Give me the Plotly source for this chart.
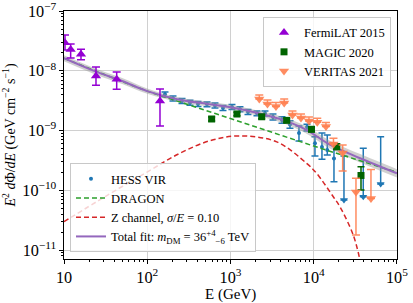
import plotly.graph_objects as go

# ---------------- data ----------------
fermi_E = [10.28, 12.02, 16.0, 24.23, 42.95, 142.3]
fermi_F = [2.947e-8, 2.268e-8, 1.885e-8, 8.17e-9, 7.19e-9, 3.116e-9]
fermi_hi = [3.965e-8, 2.804e-8, 2.286e-8, 1.156e-8, 9.53e-9, 4.95e-9]
fermi_lo = [2.225e-8, 1.634e-8, 1.531e-8, 5.71e-9, 4.89e-9, 1.189e-9]

magic_E = [594, 1196, 2371, 4733, 9397, 18880, 36980]
magic_F = [1.56e-9, 1.89e-9, 1.70e-9, 1.48e-9, 1.05e-9, 5.36e-10, 1.77e-10]
magic_hi = [1.68e-9, 2.02e-9, 1.83e-9, 1.60e-9, 1.15e-9, 6.0e-10, 2.48e-10]
magic_lo = [1.45e-9, 1.77e-9, 1.58e-9, 1.37e-9, 0.95e-9, 4.8e-10, 1.01e-10]

ver_E = [2218, 2782, 3520, 4418, 5555, 7028, 8769, 11030, 14030, 17270, 22270, 32180, 48720]
ver_F = [3.366e-9, 2.777e-9, 2.521e-9, 2.885e-9, 1.817e-9, 1.619e-9, 1.442e-9,
         1.372e-9, 1.167e-9, 5.94e-10, 4.20e-10, 9.35e-11, 7.28e-11]
ver_hi = [3.925e-9, 3.238e-9, 2.939e-9, 3.364e-9, 2.119e-9, 1.888e-9, 1.681e-9,
          1.600e-9, 1.361e-9, 7.41e-10, 5.72e-10, 1.585e-10, 2.225e-10]
ver_lo = [3.366e-9, 2.777e-9, 2.521e-9, 2.885e-9, 1.817e-9, 1.619e-9, 1.442e-9,
          1.372e-9, 1.167e-9, 5.94e-10, 2.10e-10, 1.78e-11, 7.28e-11]

hess_E = [163.4, 203.8, 261.5, 326.2, 407.0, 522.1, 651.4, 812.6, 1042, 1300, 1623,
          2081, 2597, 3240, 4156, 5185, 6651, 8297, 10350, 12560, 14550, 17510]
hess_F = [4.035e-9, 3.432e-9, 3.116e-9, 2.919e-9, 2.777e-9, 2.745e-9, 2.620e-9, 2.379e-9,
          2.473e-9, 2.263e-9, 2.040e-9, 1.940e-9, 1.925e-9, 1.682e-9, 1.499e-9, 1.260e-9,
          9.08e-10, 1.145e-9, 6.10e-10, 5.30e-10, 4.72e-10, 3.42e-10]
hess_hi = [4.435e-9, 3.772e-9, 3.426e-9, 3.209e-9, 3.057e-9, 3.015e-9, 2.880e-9, 2.619e-9,
           2.723e-9, 2.493e-9, 2.240e-9, 2.130e-9, 2.115e-9, 1.882e-9, 1.699e-9, 1.460e-9,
           1.189e-9, 1.280e-9, 7.87e-10, 9.08e-10, 8.41e-10, 6.18e-10]
hess_lo = [3.675e-9, 3.122e-9, 2.836e-9, 2.659e-9, 2.527e-9, 2.495e-9, 2.380e-9, 2.169e-9,
           2.253e-9, 2.063e-9, 1.860e-9, 1.770e-9, 1.755e-9, 1.502e-9, 1.319e-9, 1.090e-9,
           6.67e-10, 9.81e-10, 3.74e-10, 3.30e-10, 3.89e-10, 1.39e-10]
hess_ul_E = [23090, 39370, 63720]
hess_ul_F = [3.74e-10, 5.04e-10, 7.87e-10]
hess_ul_tip = [6.87e-11, 7.80e-11, 1.27e-10]

dragon_E = [10, 31.62, 100, 316.2, 1000, 3162, 10000, 31620, 100000]
dragon_F = [1.622e-8, 8.51e-9, 4.57e-9, 2.69e-9, 1.585e-9, 9.33e-10, 5.50e-10, 3.31e-10, 2.0e-10]

zch_E = [10, 31.62, 98.4, 247.2, 567.5, 1259, 3589, 8222, 10840, 17180, 20650, 29850, 35970]
zch_F = [2.98e-11, 7.94e-11, 2.0e-10, 4.17e-10, 6.76e-10, 8.13e-10, 6.46e-10, 2.82e-10,
         1.92e-10, 7.80e-11, 5.31e-11, 1.78e-11, 6.76e-12]

fit_E = [10, 24.2, 50, 100, 251, 501, 1000, 1995, 3981, 7943, 15850, 35480, 100000]
fit_F = [1.622e-8, 9.66e-9, 6.76e-9, 4.57e-9, 3.24e-9, 2.82e-9, 2.45e-9, 2.0e-9, 1.55e-9,
         1.047e-9, 5.75e-10, 3.47e-10, 1.92e-10]
fit_hi = [1.820e-8, 1.084e-8, 7.59e-9, 5.07e-9, 3.55e-9, 3.09e-9, 2.69e-9, 2.21e-9, 1.74e-9,
          1.20e-9, 6.68e-10, 4.07e-10, 2.26e-10]
fit_lo = [1.445e-8, 8.61e-9, 6.03e-9, 4.12e-9, 2.95e-9, 2.57e-9, 2.24e-9, 1.80e-9, 1.38e-9,
          9.12e-10, 4.95e-10, 2.95e-10, 1.64e-10]

# ---------------- styles ----------------
FONT = "Liberation Serif"
C_FERMI = "#9400d3"
C_MAGIC = "#006400"
C_VER = "rgba(255,127,80,0.9)"
C_HESS = "#1f77b4"
C_DRAGON = "#2ca02c"
C_Z = "#d62728"
C_FIT = "#9467bd"


def up(v, hi):
    return [h - x for x, h in zip(v, hi)]


def dn(v, lo):
    return [x - l for x, l in zip(v, lo)]


fig = go.Figure()

# HESS data
fig.add_trace(go.Scatter(
    x=hess_E, y=hess_F, mode="markers", name="HESS VIR", legend="legend2",
    marker=dict(symbol="circle", size=4, color=C_HESS),
    error_y=dict(type="data", symmetric=False, array=up(hess_F, hess_hi),
                 arrayminus=dn(hess_F, hess_lo), color=C_HESS, thickness=1.5, width=3.5)))
fig.add_trace(go.Scatter(
    x=hess_ul_E, y=hess_ul_tip, mode="markers", showlegend=False, legend="legend2",
    marker=dict(symbol="triangle-down", size=7, color=C_HESS),
    error_y=dict(type="data", symmetric=False, array=up(hess_ul_tip, hess_ul_F),
                 arrayminus=[0] * len(hess_ul_E), color=C_HESS, thickness=1.5, width=3.5)))

# fit band + total fit
fig.add_trace(go.Scatter(x=fit_E, y=fit_hi, mode="lines", line=dict(width=0, shape="spline"),
                         showlegend=False, legend="legend2", hoverinfo="skip"))
fig.add_trace(go.Scatter(x=fit_E, y=fit_lo, mode="lines", line=dict(width=0, shape="spline"),
                         fill="tonexty", fillcolor="rgba(150,150,150,0.45)",
                         showlegend=False, legend="legend2", hoverinfo="skip"))
fig.add_trace(go.Scatter(x=dragon_E, y=dragon_F, mode="lines", name="DRAGON",
                         legend="legend2",
                         line=dict(color=C_DRAGON, width=1.5, dash="5px,3px", shape="spline")))
fig.add_trace(go.Scatter(x=zch_E, y=zch_F, mode="lines",
                         name="Z channel, <i>σ</i>/<i>E</i> = 0.10",
                         legend="legend2",
                         line=dict(color=C_Z, width=1.5, dash="5px,3px", shape="spline")))
fig.add_trace(go.Scatter(x=fit_E, y=fit_F, mode="lines",
                         name="Total fit: <i>m</i><sub>DM</sub> = 36<sup>+4</sup><sub>−6</sub> TeV",
                         legend="legend2",
                         line=dict(color=C_FIT, width=2, shape="spline")))

# other experiments
fig.add_trace(go.Scatter(
    x=fermi_E, y=fermi_F, mode="markers", name="FermiLAT 2015", legend="legend",
    marker=dict(symbol="triangle-up", size=9, color=C_FERMI),
    error_y=dict(type="data", symmetric=False, array=up(fermi_F, fermi_hi),
                 arrayminus=dn(fermi_F, fermi_lo), color=C_FERMI, thickness=1.5, width=4)))
fig.add_trace(go.Scatter(
    x=magic_E, y=magic_F, mode="markers", name="MAGIC 2020", legend="legend",
    marker=dict(symbol="square", size=7, color=C_MAGIC),
    error_y=dict(type="data", symmetric=False, array=up(magic_F, magic_hi),
                 arrayminus=dn(magic_F, magic_lo), color=C_MAGIC, thickness=1.5, width=3.5)))
fig.add_trace(go.Scatter(
    x=ver_E, y=ver_F, mode="markers", name="VERITAS 2021", legend="legend",
    marker=dict(symbol="triangle-down", size=9, color=C_VER),
    error_y=dict(type="data", symmetric=False, array=up(ver_F, ver_hi),
                 arrayminus=dn(ver_F, ver_lo), color=C_VER, thickness=1.5, width=4)))

leg_common = dict(bgcolor="rgba(255,255,255,0.8)", bordercolor="#c8c8c8", borderwidth=1,
                  font=dict(family=FONT, size=12.5, color="black"), itemwidth=30,
                  tracegroupgap=0, traceorder="normal")

fig.update_layout(
    width=413, height=303,
    margin=dict(l=64, r=16, t=11, b=44, autoexpand=False),
    paper_bgcolor="white", plot_bgcolor="white",
    font=dict(family=FONT, size=13, color="black"),
    legend=dict(x=0.982, y=0.976, xanchor="right", yanchor="top", **leg_common),
    legend2=dict(x=0.018, y=0.028, xanchor="left", yanchor="bottom", **leg_common),
    annotations=[dict(text="E (GeV)", xref="paper", yref="paper", x=0.5, y=-0.145,
                      xanchor="center", yanchor="middle", showarrow=False,
                      font=dict(family=FONT, size=15, color="black"))],
)

axis_common = dict(type="log", dtick=1, exponentformat="power", showgrid=True,
                   gridcolor="#d0d0d0", gridwidth=1, showline=True, linecolor="black",
                   linewidth=1.2, mirror=True, ticks="outside", ticklen=4, tickcolor="black",
                   tickfont=dict(family=FONT, size=13), ticklabeloverflow="allow",
                   minor=dict(ticks="outside", ticklen=2, tickcolor="black", showgrid=False,
                              dtick="D1"),
                   zeroline=False)

fig.update_xaxes(range=[1, 5.0005], **axis_common)
fig.update_yaxes(range=[-11.15, -6.9995],
                 title=dict(text="<i>E</i><sup>2</sup> <i>d</i>Φ/<i>dE</i> (GeV cm<sup>−2</sup> s<sup>−1</sup>)",
                            font=dict(size=14), standoff=6),
                 **axis_common)

fig.write_html("out.html", config={"displayModeBar": False},
               post_script="document.body.style.margin='0';document.body.style.padding='0';")
